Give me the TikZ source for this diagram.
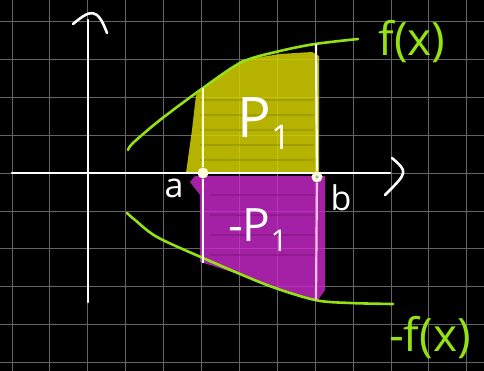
\documentclass[tikz,border=0pt]{standalone}
\usepackage{fontspec}
\setmainfont{Open Sans}
\begin{document}
\begin{tikzpicture}[x=1pt,y=-1pt,
  gridline/.style={draw=gridc,line width=0.9pt},
  axisline/.style={draw=white,line width=2.6pt,line cap=round},
  curvegreen/.style={draw=grn,line width=2.6pt,line cap=round},
  dotpt/.style={circle,fill=white!85!yellow,inner sep=0pt,minimum size=11pt},
  lbl/.style={text=white,inner sep=0pt},
  glbl/.style={text=grn,inner sep=0pt}]
\definecolor{bgc}{RGB}{0,0,0}
\definecolor{gridc}{RGB}{100,100,100}
\definecolor{fillY}{RGB}{215,210,0}
\definecolor{fillM}{RGB}{205,40,205}
\definecolor{grn}{RGB}{150,225,20}
\fill[bgc] (0,0) rectangle (484,371);
\useasboundingbox (0,0) rectangle (484,371);
% grid
\foreach \i in {0,...,12} \draw[gridline] ({12+37.9*\i},0) -- ({12+37.9*\i},371);
\foreach \j in {0,...,9} \draw[gridline] (0,{21.5+37.9*\j}) -- (484,{21.5+37.9*\j});
% fills
\fill[fillY,opacity=0.85] (186,173) -- (192,130) -- (196,95) -- (203,88) -- (242,60) -- (280,54) -- (312,52) -- (319,56) -- (319,173) -- cycle;
\fill[fillM,opacity=0.8] (195,176) -- (325,176) -- (325,290) -- (318,300) -- (290,292) -- (250,278) -- (210,265) -- (200,262) -- (200,195) -- (190,182) -- cycle;
\foreach \yy in {100,115,130,145,160} \draw[fillY!60!black,line width=1.2pt,opacity=0.4] (200,\yy) -- (314,\yy);
\foreach \yy in {195,215,235,255} \draw[fillM!60!black,line width=1.2pt,opacity=0.5] (210,\yy) -- (314,\yy);
% axes
\coordinate (xs) at (12,173);
\coordinate (xe) at (390,173);
\coordinate (ys) at (88,302);
\coordinate (ye) at (88,20);
\draw[axisline] (xs) -- (xe);
\draw[axisline] (ys) -- (ye);
\coordinate (xa1) at (392,158);
\coordinate (xa2) at (385,195);
\draw[axisline] (xa1) .. controls (408,172) .. (xa2);
\coordinate (ya1) at (73,24);
\coordinate (ya2) at (107,33);
\draw[axisline] (ya1) .. controls (90,10) and (97,6) .. (ya2);
% curves
\draw[curvegreen] plot[smooth] coordinates {(128,150) (133,143) (160,120) (203,88) (242,62) (280,51) (315,44) (358,39)};
\draw[curvegreen] plot[smooth] coordinates {(127,213) (135,220) (157,237) (203,258) (267,285) (315,300) (350,303) (393,304)};
% points
\node[dotpt] (A) at (203,173) {};
\node[dotpt] (B) at (317,177) {};
\fill[gray!60] (B.center) circle (1.8pt);
\coordinate (At) at (203,88);
\coordinate (Ab) at (203,263);
\coordinate (Bt) at (316,44);
\coordinate (Bb) at (316,300);
\draw[draw=white!80!yellow,line width=2.2pt] (A) -- (At);
\draw[draw=white,line width=2.2pt] (A) -- (Ab);
\draw[draw=white,line width=2.2pt] (B) -- (Bt);
\draw[draw=white!75!magenta,line width=2.2pt] (B) -- (Bb);
% labels
\node[lbl,font=\fontsize{34}{34}\selectfont] (la) at (174,188) {a};
\node[lbl,font=\fontsize{34}{34}\selectfont] (lb) at (341,198) {b};
\node[lbl,font=\fontsize{56}{56}\selectfont] (p1) at (264,124) {P\raisebox{-0.4ex}{\fontsize{34}{34}\selectfont 1}};
\node[lbl,font=\fontsize{46}{46}\selectfont] (mp1) at (258,230) {-P\raisebox{-0.4ex}{\fontsize{30}{30}\selectfont 1}};
\node[glbl,font=\fontsize{46}{46}\selectfont] (fx) at (412,42) {f(x)};
\node[glbl,font=\fontsize{46}{46}\selectfont] (mfx) at (430,338) {-f(x)};
\end{tikzpicture}
\end{document}
